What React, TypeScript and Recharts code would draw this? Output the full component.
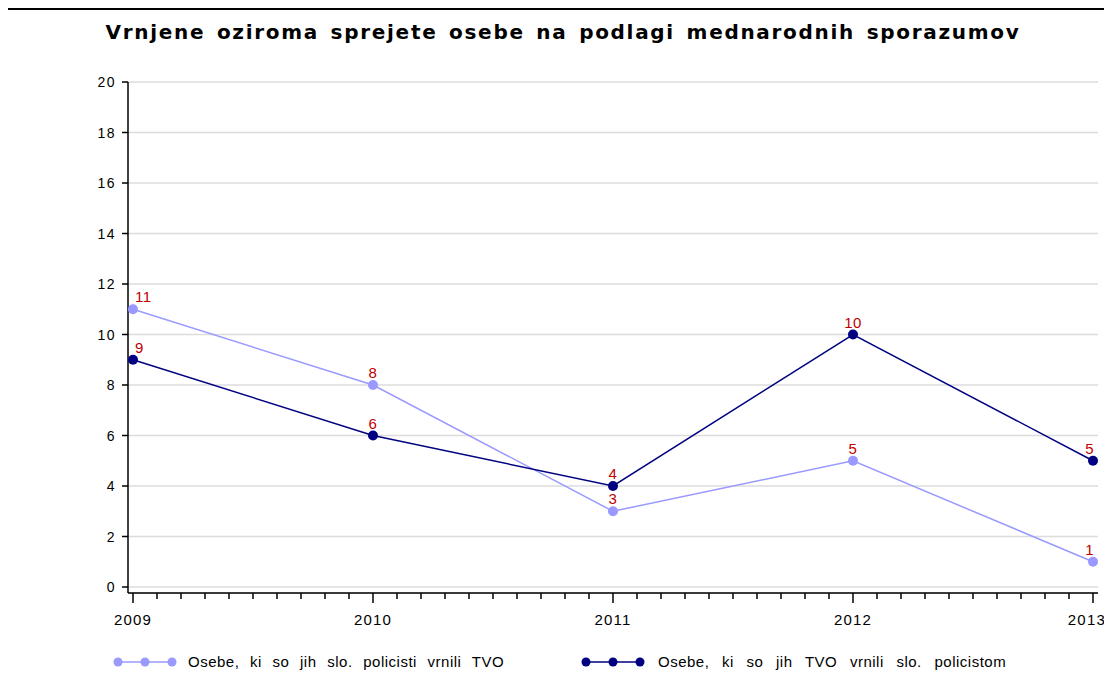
import React from "react";
import {
  CartesianGrid,
  LabelList,
  Line,
  LineChart,
  XAxis,
  YAxis,
} from "recharts";

const years = [2009, 2010, 2011, 2012, 2013];
const returnedBySlo = [11, 8, 3, 5, 1];
const returnedToSlo = [9, 6, 4, 10, 5];
const yTicks = [0, 2, 4, 6, 8, 10, 12, 14, 16, 18, 20];

const seriesLight = "Osebe, ki so jih slo. policisti vrnili TVO";
const seriesDark = "Osebe, ki so jih TVO vrnili slo. policistom";
const title = "Vrnjene oziroma sprejete osebe na podlagi mednarodnih sporazumov";

const LIGHT = "#9999ff";
const DARK = "#000080";
const LABEL_RED = "#c00000";
const FONT = "'Liberation Sans', Arial, sans-serif";

// 10 subdivisions per year on the x axis (minor ticks)
const STEPS = 10;
const xTicks: number[] = [];
for (let i = 0; i <= (years.length - 1) * STEPS; i++) {
  xTicks.push(years[0] + i / STEPS);
}

const rows = years.map((y, i) => ({
  year: y,
  light: returnedBySlo[i],
  dark: returnedToSlo[i],
}));

function XTick(props: any) {
  const { x, y, payload, index } = props;
  const v = payload.value as number;
  const major = Math.abs(v - Math.round(v)) < 1e-6;
  const isLast = index === xTicks.length - 1;
  return (
    <g>
      <line x1={x} x2={x} y1={y} y2={y + (major ? 10 : 6)} stroke="#000" strokeWidth={1.5} />
      {major && (
        <text
          x={isLast ? x + 13 : x}
          y={y + 32}
          textAnchor={isLast ? "end" : "middle"}
          fontSize={15}
          letterSpacing={1.2}
          fontFamily={FONT}
          fill="#000"
        >
          {Math.round(v)}
        </text>
      )}
    </g>
  );
}

function YTick(props: any) {
  const { x, y, payload } = props;
  return (
    <text
      x={x}
      y={y + 5}
      textAnchor="end"
      fontSize={14}
      letterSpacing={1.5}
      fontFamily={FONT}
      fill="#000"
    >
      {payload.value}
    </text>
  );
}

function PointLabel(props: any) {
  const { x, y, value, index } = props;
  const last = index === years.length - 1;
  const first = index === 0;
  return (
    <text
      x={first ? x + 2 : last ? x + 1 : x}
      y={y - 7}
      textAnchor={first ? "start" : last ? "end" : "middle"}
      fontSize={15}
      letterSpacing={0.5}
      fontFamily={FONT}
      fill={LABEL_RED}
    >
      {value}
    </text>
  );
}

function Swatch({ color }: { color: string }) {
  return (
    <svg width={66} height={12} style={{ display: "block" }}>
      <line x1={4} x2={62} y1={6} y2={6} stroke={color} strokeWidth={1.5} />
      {[6, 33, 60].map((cx) => (
        <circle key={cx} cx={cx} cy={6} r={4.5} fill={color} />
      ))}
    </svg>
  );
}

const legendText: React.CSSProperties = {
  fontSize: 15,
  letterSpacing: 0.5,
  wordSpacing: 6,
  color: "#000",
  whiteSpace: "nowrap",
};

export default function App() {
  return (
    <div
      style={{
        position: "relative",
        width: 1102,
        height: 667,
        marginLeft: -2,
        background: "#fff",
        fontFamily: FONT,
      }}
    >
      <div
        style={{
          position: "absolute",
          left: 0,
          top: 12,
          width: 1102,
          boxSizing: "border-box",
          paddingLeft: 12,
          textAlign: "center",
          fontFamily: "'DejaVu Sans', sans-serif",
          fontSize: 20,
          fontWeight: "bold",
          letterSpacing: 1.7,
          wordSpacing: 3,
          color: "#000",
          whiteSpace: "nowrap",
        }}
      >
        {title}
      </div>

      <div style={{ position: "absolute", left: 2, top: 2 }}>
        <LineChart
          width={1100}
          height={660}
          data={rows}
          margin={{ top: 72, right: 10, left: 60, bottom: 37 }}
          style={{ overflow: "visible" }}
        >
          <CartesianGrid vertical={false} stroke="#dcdcdc" strokeWidth={1.5} />
          <XAxis
            dataKey="year"
            type="number"
            domain={[2009, 2013]}
            ticks={xTicks}
            interval={0}
            padding={{ left: 5, right: 5 }}
            height={40}
            tickSize={0}
            tickMargin={0}
            tickLine={false}
            axisLine={{ stroke: "#000", strokeWidth: 1.5 }}
            tick={<XTick />}
          />
          <YAxis
            domain={[0, 20]}
            ticks={yTicks}
            interval={0}
            width={60}
            padding={{ bottom: 6 }}
            tickSize={6}
            tickMargin={6}
            tickLine={{ stroke: "#000", strokeWidth: 1.5 }}
            axisLine={{ stroke: "#000", strokeWidth: 1.5 }}
            tick={<YTick />}
          />
          <Line
            dataKey="light"
            name={seriesLight}
            stroke={LIGHT}
            strokeWidth={1.5}
            dot={{ r: 5, fill: LIGHT, stroke: LIGHT, strokeWidth: 0 }}
            activeDot={false}
            isAnimationActive={false}
          >
            <LabelList dataKey="light" content={<PointLabel />} />
          </Line>
          <Line
            dataKey="dark"
            name={seriesDark}
            stroke={DARK}
            strokeWidth={1.5}
            dot={{ r: 5, fill: DARK, stroke: DARK, strokeWidth: 0 }}
            activeDot={false}
            isAnimationActive={false}
          >
            <LabelList dataKey="dark" content={<PointLabel />} />
          </Line>
        </LineChart>
      </div>

      <div
        style={{
          position: "absolute",
          left: 106,
          top: 645,
          display: "flex",
          alignItems: "center",
        }}
      >
        <Swatch color={LIGHT} />
        <span style={{ ...legendText, marginLeft: 10 }}>{seriesLight}</span>
      </div>
      <div
        style={{
          position: "absolute",
          left: 574,
          top: 645,
          display: "flex",
          alignItems: "center",
        }}
      >
        <Swatch color={DARK} />
        <span style={{ ...legendText, wordSpacing: 8, marginLeft: 12 }}>{seriesDark}</span>
      </div>

      {/* frame: three sides, drawn as separate bars on top of the chart */}
      <div style={{ position: "absolute", left: 0, top: 0, width: 1102, height: 2, background: "#000" }} />
      <div style={{ position: "absolute", left: 0, top: 0, width: 2, height: 667, background: "#000" }} />
      <div style={{ position: "absolute", left: 1100, top: 0, width: 2, height: 667, background: "#000" }} />
    </div>
  );
}
